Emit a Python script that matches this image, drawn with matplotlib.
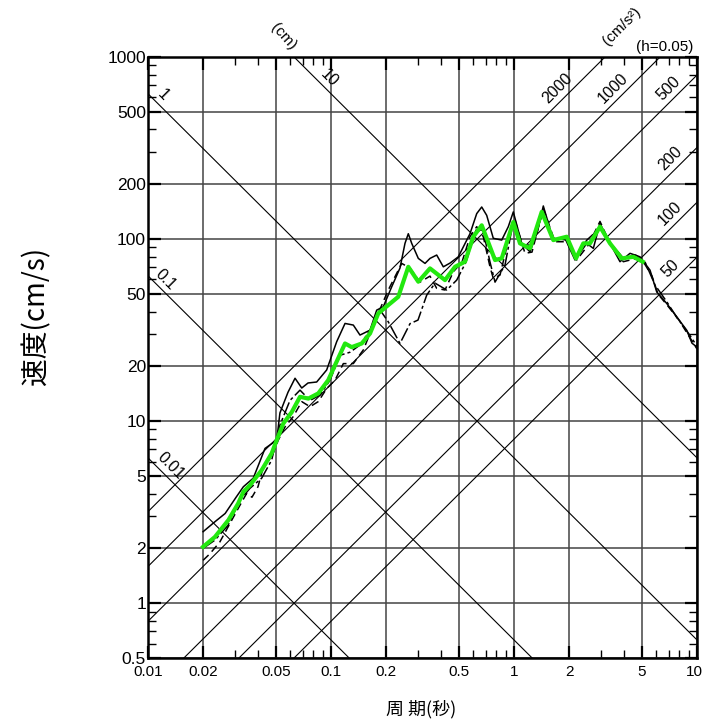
import numpy as np
import matplotlib
matplotlib.use('Agg')
import matplotlib.pyplot as plt
import matplotlib.transforms as mtransforms
from matplotlib.ticker import FixedLocator, NullFormatter

plt.rcParams['font.family'] = ['Liberation Sans', 'Noto Sans CJK JP', 'DejaVu Sans']

# period (s) / velocity (cm/s)
t_mean = [0.02, 0.0232, 0.0275, 0.0311, 0.0332, 0.0361, 0.0418, 0.0474, 0.0505, 0.0549,
          0.061, 0.0677, 0.0752, 0.0852, 0.0966, 0.1052, 0.1193, 0.1297, 0.1472, 0.1634,
          0.1814, 0.2056, 0.2332, 0.2645, 0.300, 0.3475, 0.4198, 0.476, 0.5397, 0.5993,
          0.6662, 0.7093, 0.7876, 0.8567, 0.9913, 1.078, 1.223, 1.417, 1.640, 1.941,
          2.182, 2.392, 2.602, 2.951, 3.346, 3.878, 4.486, 5.05]
v_mean = [2.04, 2.31, 2.86, 3.53, 4.09, 4.45, 5.38, 6.65, 7.86, 9.71,
          11.2, 13.6, 13.3, 14.2, 16.8, 20.3, 26.7, 25.5, 26.7, 30.3,
          39.1, 43.4, 48.2, 70.4, 58.3, 69.0, 59.5, 70.4, 75.1, 103,
          119, 101, 76.7, 78.3, 124, 94.7, 88.9, 141, 98.7, 103,
          78.3, 94.7, 94.7, 117, 94.7, 78.3, 79.9, 75.1]

t_wave1 = [0.02, 0.0232, 0.0264, 0.0303, 0.0332, 0.0376, 0.0436, 0.0505, 0.0526, 0.0582,
           0.0636, 0.0692, 0.0749, 0.0835, 0.0947, 0.1074, 0.1193, 0.1324, 0.144, 0.1634,
           0.1777, 0.1931, 0.2147, 0.2382, 0.2537, 0.2645, 0.2761, 0.300, 0.3264, 0.3475,
           0.3781, 0.4109, 0.4471, 0.4962, 0.5748, 0.6256, 0.6662, 0.7093, 0.7706, 0.8567,
           0.9309, 0.9913, 1.102, 1.223, 1.336, 1.446, 1.640, 1.900, 2.154, 2.497,
           2.713, 2.951, 3.275, 3.795, 4.305, 4.882, 5.537, 6.023, 6.83, 7.75,
           8.78, 9.39, 10.0]
v_wave1 = [2.47, 2.80, 3.11, 3.82, 4.36, 4.86, 7.08, 7.86, 11.1, 14.4,
           17.2, 15.2, 16.2, 16.4, 19.1, 27.3, 34.4, 33.7, 29.7, 31.6,
           40.7, 42.5, 54.7, 69.3, 94.7, 107, 94.7, 78.3, 73.5, 78.3,
           81.7, 70.4, 73.8, 79.9, 107, 138, 150, 135, 101, 98.7,
           117, 141, 94.7, 85.1, 108, 152, 98.7, 101, 76.7, 94.7,
           88.9, 122, 98.7, 75.1, 83.5, 79.9, 67.5, 51.3, 44.3, 37.4,
           31.6, 26.8, 25.5]

t_wave2 = [0.02, 0.0218, 0.0247, 0.0287, 0.0318, 0.0346, 0.037, 0.0399, 0.0427, 0.0474,
           0.0515, 0.0561, 0.0622, 0.0692, 0.0768, 0.0852, 0.0947, 0.1052, 0.1168, 0.1324,
           0.1502, 0.1777, 0.2056, 0.2434, 0.2702, 0.3064, 0.3475, 0.3781, 0.4198, 0.466,
           0.5197, 0.5748, 0.6256, 0.6797, 0.7393, 0.7706, 0.8385, 0.9508, 1.013, 1.148,
           1.254, 1.446, 1.675, 1.941, 2.2, 2.547, 2.951, 3.346, 3.957, 4.684,
           5.09, 5.676, 6.12, 6.94, 7.97, 9.04, 10.0]
v_wave2 = [1.72, 1.87, 2.17, 2.86, 3.45, 4.01, 3.82, 4.36, 5.61, 6.37,
           7.86, 9.30, 10.6, 12.8, 12.0, 12.8, 15.1, 16.8, 20.7, 20.7,
           24.6, 37.4, 52.5, 73.5, 69.3, 58.0, 62.6, 53.6, 52.5, 66.1,
           74.8, 103, 117, 103, 70.4, 60.8, 63.4, 107, 127, 83.5,
           84.8, 147, 96.7, 96.7, 76.7, 92.7, 125, 94.7, 75.1, 78.3,
           75.1, 62.6, 49.9, 42.8, 35.9, 29.3, 24.9]

t_wave3 = [0.02, 0.0232, 0.0274, 0.0318, 0.0361, 0.0418, 0.0474, 0.0526, 0.0597, 0.0677,
           0.0768, 0.0871, 0.0988, 0.112, 0.127, 0.144, 0.1634, 0.1853, 0.2056, 0.2382,
           0.2702, 0.2988, 0.3334, 0.3701, 0.4288, 0.4863, 0.5467, 0.6199, 0.6768, 0.7393,
           0.7876, 0.893, 0.982, 1.106, 1.254, 1.44, 1.634, 1.95, 2.18, 2.5,
           2.95, 3.43, 3.96, 4.62, 5.2, 5.9, 6.85, 7.8, 9.04, 10.0]
v_wave3 = [2.00, 2.22, 2.68, 3.68, 4.28, 4.86, 6.11, 9.51, 13.0, 14.8,
           13.0, 13.9, 16.8, 23.0, 23.9, 26.2, 31.6, 40.8, 35.1, 26.7,
           34.3, 35.9, 49.2, 57.3, 52.5, 59.5, 74.8, 112, 112, 74.8,
           58.0, 72.0, 119, 92.7, 92.7, 141, 101, 98.7, 80.6, 98.7,
           115, 92.7, 78.6, 81.7, 74.8, 55.9, 45.1, 36.8, 30.1, 25.8]

disp_values = [0.01, 0.1, 1, 10]                 # cm
disp_labels = ['0.01', '0.1', '1', '10']
acc_values = [50, 100, 200, 500, 1000, 2000]     # cm/s2
acc_labels = ['50', '100', '200', '500', '1000', '2000']

x_ticks = [0.01, 0.02, 0.05, 0.1, 0.2, 0.5, 1, 2, 5, 10]
x_tick_labels = ['0.01', '0.02', '0.05', '0.1', '0.2', '0.5', '1', '2', '5', '10']
y_ticks = [0.5, 1, 2, 5, 10, 20, 50, 100, 200, 500, 1000]
y_tick_labels = ['0.5', '1', '2', '5', '10', '20', '50', '100', '200', '500', '1000']

W, H = 704, 723
fig = plt.figure(figsize=(W / 100, H / 100), dpi=100)
ax = fig.add_axes([148 / W, 1 - 658 / H, 549 / W, 601 / H])
ax.set_xscale('log')
ax.set_yscale('log')

# tripartite guide lines
t_line = np.array([1e-3, 1e2])
for d in disp_values:
    ax.plot(t_line, 2 * np.pi * d / t_line, color='black', lw=0.8, zorder=1.5)
for a in acc_values:
    ax.plot(t_line, a * t_line / (2 * np.pi), color='black', lw=0.8, zorder=1.5)

# labels on the guide lines
disp_label_t = [0.0121, 0.0114, 0.0111, 0.09]
for d, lab, t in zip(disp_values, disp_labels, disp_label_t):
    ax.annotate(lab, xy=(t, 2 * np.pi * d / t), xytext=(5, 5), textcoords='offset points',
                rotation=-45, ha='center', va='center', fontsize=11.5)
for a, lab in zip(acc_values, acc_labels):
    t = min(2 * np.pi * 610 / a, 7.87)
    ax.annotate(lab, xy=(t, a * t / (2 * np.pi)), xytext=(-5.5, 5.5), textcoords='offset points',
                rotation=45, ha='center', va='center', fontsize=11.5)

# spectra
ax.plot(t_wave1, v_wave1, color='black', lw=1.1, zorder=3)
ax.plot(t_wave2, v_wave2, color='black', lw=1.1, ls=(0, (5, 3)), zorder=3)
ax.plot(t_wave3, v_wave3, color='black', lw=1.1, ls=(0, (9, 2, 2, 2)), zorder=3)
ax.plot(t_mean, v_mean, color='#22e80f', lw=3.0, zorder=4)

ax.set_xlim(0.01, 10)
ax.set_ylim(0.5, 1000)

ax.xaxis.set_major_locator(FixedLocator(x_ticks))
ax.set_xticklabels(x_tick_labels)
ax.yaxis.set_major_locator(FixedLocator(y_ticks))
ax.set_yticklabels(y_tick_labels)
x_minor = [k * 10.0 ** e for e in (-2, -1, 0) for k in (3, 4, 6, 7, 8, 9)]
y_minor = [k * 10.0 ** e for e in (-1, 0, 1, 2) for k in (3, 4, 6, 7, 8, 9)]
ax.xaxis.set_minor_locator(FixedLocator(x_minor))
ax.yaxis.set_minor_locator(FixedLocator(y_minor))
ax.xaxis.set_minor_formatter(NullFormatter())
ax.yaxis.set_minor_formatter(NullFormatter())

ax.tick_params(which='both', direction='in', top=True, right=True, colors='black')
ax.tick_params(which='major', length=9, width=1.6)
ax.tick_params(which='minor', length=5.5, width=1.0)
ax.tick_params(axis='x', labelsize=11, pad=5)
ax.tick_params(axis='y', labelsize=12.5, pad=1.5)
ax.grid(which='major', color='#444444', lw=1.1, zorder=1)
ax.set_axisbelow(True)
for s in ax.spines.values():
    s.set_linewidth(1.8)

# keep the "10" at the right end inside the picture
last = ax.get_xticklabels()[-1]
last.set_transform(last.get_transform() + mtransforms.ScaledTranslation(-3 / 100, 0, fig.dpi_scale_trans))

# unit texts above the frame
fig.text(283 / W, 1 - 37 / H, '(cm)', rotation=-48, ha='center', va='center', fontsize=11)
fig.text(622 / W, 1 - 26 / H, '(cm/s²)', rotation=45, ha='center', va='center', fontsize=11)
fig.text(665 / W, 1 - 47.5 / H, '(h=0.05)', ha='center', va='center', fontsize=11)

# axis titles
fig.text(421 / W, 1 - 709 / H, '周 期(秒)', ha='center', va='center', fontsize=13,
         family=['Noto Sans CJK JP', 'DejaVu Sans'])
fig.text(36 / W, 1 - 316 / H, '速度(cm/s)', rotation=90, ha='center', va='center', fontsize=20,
         family=['Noto Sans CJK JP', 'DejaVu Sans'])

fig.savefig('out.png', dpi=100)
